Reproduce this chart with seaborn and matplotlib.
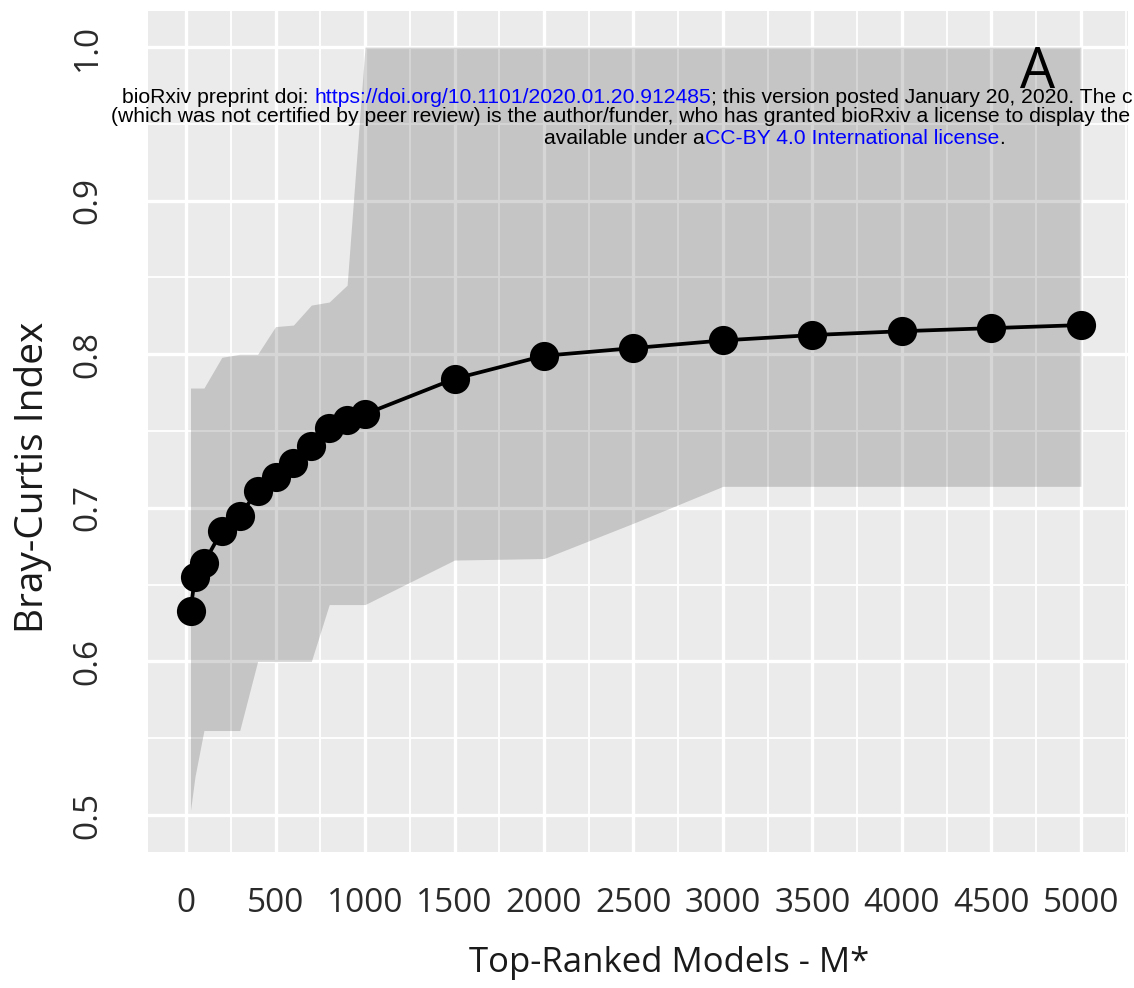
import matplotlib
matplotlib.use("Agg")
import matplotlib.pyplot as plt
import seaborn as sns
import pandas as pd
from matplotlib.ticker import MultipleLocator

# ---------------- data ----------------
models = [25, 50, 100, 200, 300, 400, 500, 600, 700, 800, 900, 1000,
          1500, 2000, 2500, 3000, 3500, 4000, 4500, 5000]
bray_curtis = [0.633, 0.655, 0.664, 0.685, 0.695, 0.711, 0.720, 0.729,
               0.740, 0.752, 0.757, 0.761, 0.784, 0.799, 0.804, 0.809,
               0.8125, 0.815, 0.817, 0.819]
ribbon_lower = [0.503, 0.525, 0.555, 0.555, 0.555, 0.600, 0.600, 0.600,
                0.600, 0.637, 0.637, 0.637, 0.666, 0.667, 0.690, 0.714,
                0.714, 0.714, 0.714, 0.714]
ribbon_upper = [0.778, 0.778, 0.778, 0.798, 0.800, 0.800, 0.818, 0.819,
                0.832, 0.834, 0.845, 1.000, 1.000, 1.000, 1.000, 1.000,
                1.000, 1.000, 1.000, 1.000]
x_ticks = [0, 500, 1000, 1500, 2000, 2500, 3000, 3500, 4000, 4500, 5000]
y_ticks = [0.5, 0.6, 0.7, 0.8, 0.9, 1.0]
y_tick_labels = ["0.5", "0.6", "0.7", "0.8", "0.9", "1.0"]
x_label = "Top-Ranked Models - M*"
y_label = "Bray-Curtis Index"
panel_letter = "A"
header_line1 = [("bioRxiv preprint doi: ", "black"),
                ("https://doi.org/10.1101/2020.01.20.912485", "#0000FF"),
                ("; this version posted January 20, 2020. The c", "black")]
header_line2 = [("(which was not certified by peer review) is the author/funder, "
                 "who has granted bioRxiv a license to display the", "black")]
header_line3 = [("available under a", "black"),
                ("CC-BY 4.0 International license", "#0000FF"),
                (".", "black")]

df = pd.DataFrame({"models": models, "bc": bray_curtis,
                   "lo": ribbon_lower, "hi": ribbon_upper})

# ---------------- style ----------------
sns.set_theme(style="darkgrid", rc={"axes.facecolor": "#EBEBEB",
                                    "figure.facecolor": "white"})
plt.rcParams["font.family"] = ["Open Sans", "DejaVu Sans"]

W, H = 1134, 988
fig = plt.figure(figsize=(W / 100, H / 100), dpi=100)
pl, pr, pt, pb = 148, 1128, 11, 852
ax = fig.add_axes([pl / W, 1 - pb / H, (pr - pl) / W, (pb - pt) / H])

ax.fill_between(df["models"], df["lo"], df["hi"], color="black",
                alpha=0.16, linewidth=0, zorder=1)
sns.lineplot(data=df, x="models", y="bc", ax=ax, color="black",
             linewidth=2.7, marker="o", markersize=21,
             markeredgewidth=0, zorder=3)

ax.set_xlim(-212.5, 5263)
ax.set_ylim(0.4759, 1.0235)
ax.set_xticks(x_ticks)
ax.set_xticklabels([str(v) for v in x_ticks])
ax.set_yticks(y_ticks)
ax.set_yticklabels(y_tick_labels, rotation=90, va="center")
ax.xaxis.set_minor_locator(MultipleLocator(250))
ax.yaxis.set_minor_locator(MultipleLocator(0.05))
ax.set_axisbelow(True)
ax.grid(which="major", color="white", linewidth=2.4)
ax.grid(which="minor", color="white", linewidth=1.3)
for s in ax.spines.values():
    s.set_visible(False)
ax.tick_params(which="minor", length=0)
ax.tick_params(axis="both", which="major", length=10.5, width=2.2,
               color="#333333", direction="out", labelsize=24,
               labelcolor="#2a2a2a")
ax.tick_params(axis="x", which="major", pad=15)
ax.tick_params(axis="y", which="major", pad=21)

ax.set_xlabel(x_label, fontsize=25, color="#1a1a1a")
ax.xaxis.set_label_coords((669 - pl) / (pr - pl), (pb - 972) / (pb - pt))
ax.xaxis.label.set_va("baseline")
ax.set_ylabel(y_label, fontsize=28, color="#1a1a1a")
ax.yaxis.set_label_coords((33 - pl) / (pr - pl), (pb - 477) / (pb - pt))
ax.yaxis.label.set_va("center")

# panel letter
fig.text(1038 / W, 1 - 88 / H, panel_letter, fontsize=40, color="black",
         ha="center", va="baseline")

# ---------------- preprint header ----------------
renderer = fig.canvas.get_renderer()
hdr_kw = dict(fontsize=15.2, family=["Liberation Sans", "DejaVu Sans"],
              va="baseline", ha="left")


def text_width(s):
    t = fig.text(0, 0, s, **hdr_kw)
    w = t.get_window_extent(renderer=renderer).width
    t.remove()
    return w


def draw_line(x_px, base_px, segments):
    prefix = ""
    for txt, col in segments:
        probe = txt.lstrip()[0] if txt.strip() else "I"
        off = text_width(prefix + probe) - text_width(probe) if prefix else 0
        fig.text((x_px + off) / W, 1 - base_px / H, txt, color=col, **hdr_kw)
        prefix += txt


draw_line(122, 103, header_line1)
draw_line(111, 122, header_line2)
draw_line(544, 144, header_line3)

fig.savefig("out.png", dpi=100)
